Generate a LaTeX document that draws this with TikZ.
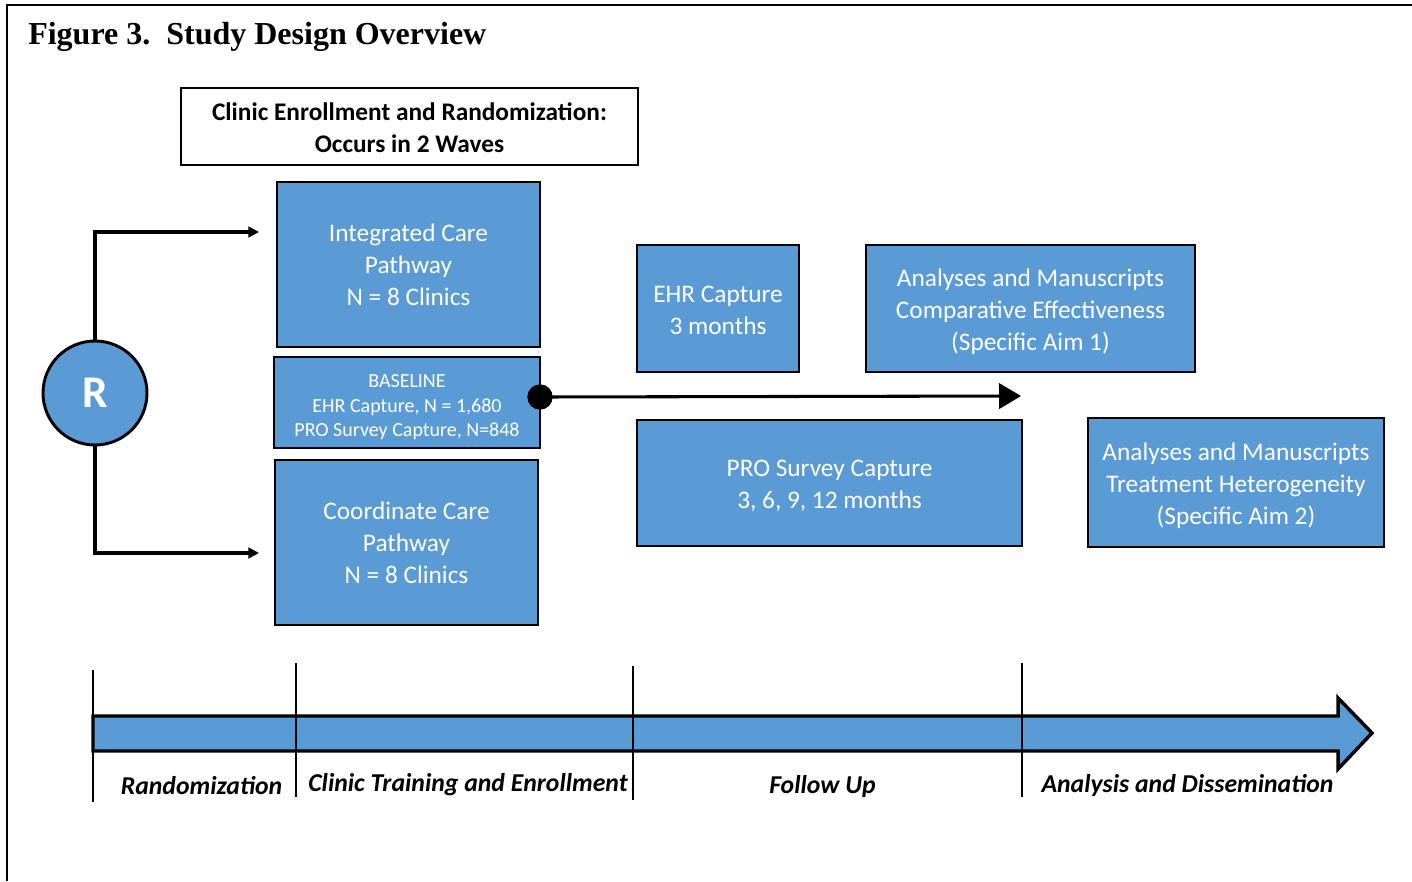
\documentclass[tikz,border=0pt]{standalone}
\usepackage{fontspec}
\setmainfont{Carlito}
\newfontfamily\titlefont{Liberation Serif}
\usetikzlibrary{arrows.meta,shapes.geometric}
\definecolor{ofblue}{HTML}{5B9BD5}
\newcommand{\lowertext}[3]{\raisebox{-#1}[\height][\depth]{\parbox{#2}{\centering #3}}}
\tikzset{
  bluebox/.style={draw=black, line width=2.2pt, fill=ofblue, text=white, align=center, inner sep=0pt,
    font=\fontsize{19}{24}\selectfont},
  smallbox/.style={bluebox, font=\fontsize{15}{18.5}\selectfont},
  headbox/.style={draw=black, line width=2.2pt, fill=white, align=center, inner sep=0pt,
    font=\bfseries\fontsize{19}{24}\selectfont},
  conn/.style={line width=2.3pt, -{Triangle[length=8pt,width=8pt]}},
  phase/.style={font=\bfseries\itshape\fontsize{19.3}{22}\selectfont, anchor=center},
  tick/.style={line width=1.4pt}
}
\begin{document}
\begin{tikzpicture}[x=0.75pt,y=-0.75pt]
\useasboundingbox (0,0) rectangle (1412,881);
% frame
\draw[line width=1.6pt] (7,881) -- (7,5) -- (1412,5);
% title
\node[anchor=base west, inner sep=0pt, font=\titlefont\bfseries\fontsize{24}{28}\selectfont] (title) at (28,45) {Figure 3.\ \ Study Design Overview};
% header
\node[headbox, minimum width=342.75pt, minimum height=57.75pt] (head) at (409.5,126.5) {\lowertext{0.7pt}{330pt}{Clinic Enrollment and Randomization:\\Occurs in 2 Waves}};
% boxes
\node[bluebox, minimum width=197.25pt, minimum height=123.75pt] (icp) at (408.5,264.5) {Integrated Care\\Pathway\\N = 8 Clinics};
\node[smallbox, minimum width=199.5pt, minimum height=68.25pt] (base) at (407,402.5) {\lowertext{3.5pt}{190pt}{BASELINE\\EHR Capture, N = 1,680\\PRO Survey Capture, N=848}};
\node[bluebox, minimum width=197.25pt, minimum height=123.75pt] (ccp) at (406.5,542.5) {Coordinate Care\\Pathway\\N = 8 Clinics};
\node[bluebox, minimum width=121.5pt, minimum height=95.25pt] (ehr) at (718,308.5) {\lowertext{1.5pt}{115pt}{EHR Capture\\3 months}};
\node[bluebox, minimum width=246.75pt, minimum height=95.25pt] (an1) at (1030.5,308.5) {\lowertext{2.25pt}{240pt}{Analyses and Manuscripts\\Comparative Effectiveness\\(Specific Aim 1)}};
\node[bluebox, minimum width=288.75pt, minimum height=94.5pt] (pro) at (829.5,483) {\lowertext{2.25pt}{280pt}{PRO Survey Capture\\3, 6, 9, 12 months}};
\node[bluebox, minimum width=222pt, minimum height=96.75pt] (an2) at (1236,482.5) {\lowertext{2.25pt}{215pt}{Analyses and Manuscripts\\Treatment Heterogeneity\\(Specific Aim 2)}};
% R circle
\node[circle, draw=black, line width=2.2pt, fill=ofblue, text=white, minimum size=78pt, inner sep=0pt,
  font=\bfseries\fontsize{34}{38}\selectfont] (R) at (95,393) {R};
% randomization connectors
\coordinate (topend) at (259,232);
\coordinate (botend) at (259,553);
\draw[conn] (R.north) |- (topend);
\draw[conn] (R.south) |- (botend);
% baseline arrow
\node[circle, fill=black, minimum size=19pt, inner sep=0pt] (dot) at (540,397) {};
\coordinate (arrend) at (1021,396);
\draw[line width=2.3pt, -{Triangle[length=16.5pt,width=19pt]}] (dot.center) -- (arrend);
% timeline arrow
\draw[line width=2.6pt, fill=ofblue, line join=miter]
  (93,716) -- (1338,716) -- (1338,698) -- (1372,733) -- (1338,769) -- (1338,751) -- (93,751) -- cycle;
% ticks
\draw[tick] (93,670) -- (93,802);
\draw[tick] (296,663) -- (296,797);
\draw[tick] (633,666) -- (633,800);
\draw[tick] (1022,663) -- (1022,797);
% phase labels
\node[phase] (p1) at (201.5,786) {Randomization};
\node[phase] (p2) at (468,785) {Clinic Training and Enrollment};
\node[phase] (p3) at (822.5,786) {Follow Up};
\node[phase] (p4) at (1187.5,785) {Analysis and Dissemination};
\end{tikzpicture}
\end{document}
